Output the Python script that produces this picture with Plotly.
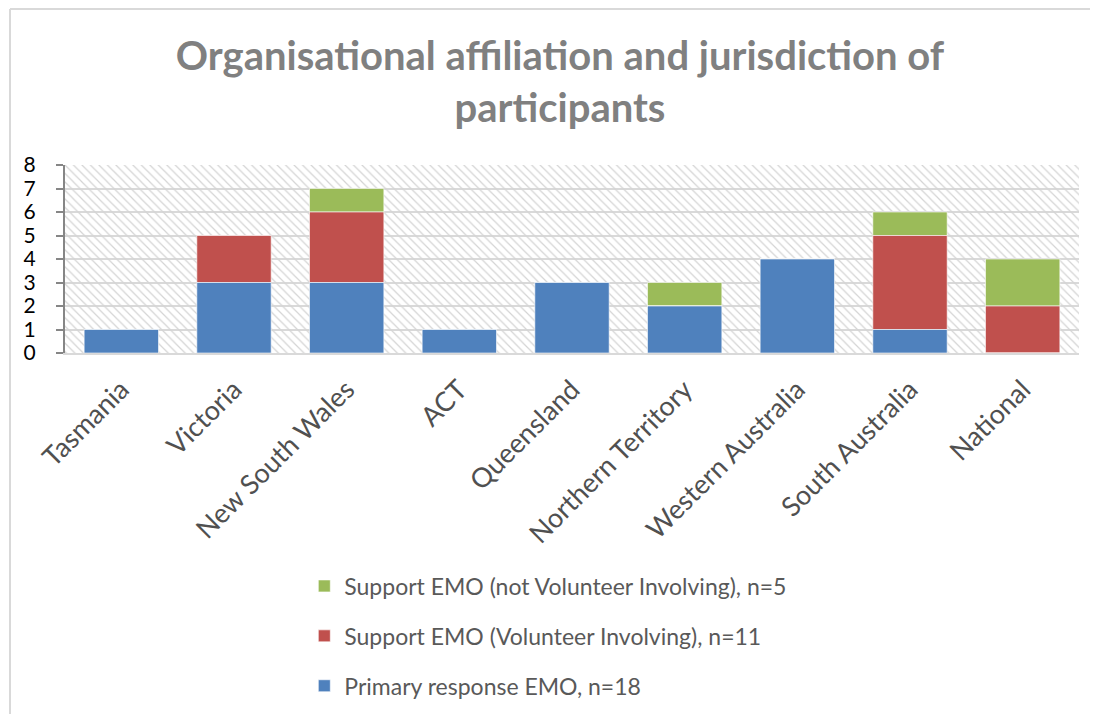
import plotly.graph_objects as go

categories = ["Tasmania", "Victoria", "New South Wales", "ACT", "Queensland",
              "Northern Territory", "Western Australia", "South Australia", "National"]
primary = [1, 3, 3, 1, 3, 2, 4, 1, 0]
support_vi = [0, 2, 3, 0, 0, 0, 0, 4, 2]
support_nvi = [0, 0, 1, 0, 0, 1, 0, 1, 2]

series_names = ["Primary response EMO, n=18",
                "Support EMO (Volunteer Involving), n=11",
                "Support EMO (not Volunteer Involving), n=5"]
colors = ["#4F81BD", "#C0504D", "#9BBB59"]

y_ticks = [0, 1, 2, 3, 4, 5, 6, 7, 8]
x_idx = list(range(len(categories)))
n = len(categories)

FONT = "Lato"
W, H = 1082, 706
L, T = 57, 157
PLOT_R, PLOT_B = 1071, 345

fig = go.Figure()

# hatched plot-area background (drawn first, under the data bars)
fig.add_trace(go.Bar(
    x=[(n - 1) / 2], y=[y_ticks[-1]], width=[n], base=[y_ticks[0]],
    marker=dict(color="rgba(0,0,0,0)", line=dict(width=0),
                pattern=dict(shape="\\", size=6, solidity=0.2,
                             fgcolor="#d4d4d4", bgcolor="rgba(255,255,255,0)",
                             fillmode="replace")),
    hoverinfo="skip", showlegend=False,
))

# stacked bases computed from the data
series_vals = [primary, support_vi, support_nvi]
bases = []
acc = [0] * n
for vals in series_vals:
    bases.append(list(acc))
    acc = [a + v for a, v in zip(acc, vals)]

# add in legend order (top series first)
for i in reversed(range(len(series_vals))):
    fig.add_trace(go.Bar(
        x=x_idx, y=series_vals[i], base=bases[i], name=series_names[i],
        legendgroup=f"g{i}",
        marker=dict(color=colors[i], line=dict(color="rgba(255,255,255,0.6)", width=1)),
    ))

fig.update_layout(
    width=W, height=H,
    barmode="overlay", bargap=0.34,
    paper_bgcolor="white", plot_bgcolor="white",
    margin=dict(l=L, r=W - PLOT_R, t=T, b=H - PLOT_B, autoexpand=False),
    title=dict(
        text="Organisational affiliation and jurisdiction of<br>participants",
        x=(560 - 8 - L) / (PLOT_R - L), xref="paper", xanchor="center",
        y=1 - 62 / H, yanchor="top",
        font=dict(family=FONT, size=40, color="#808080", weight="bold"),
    ),
    legend=dict(
        orientation="v", traceorder="grouped",
        x=0.236, xanchor="left", y=-1.125, yanchor="top",
        font=dict(family=FONT, size=23, color="#595959"),
        tracegroupgap=17,
    ),
    showlegend=True,
)

fig.update_xaxes(
    tickmode="array", tickvals=x_idx, ticktext=categories,
    range=[-0.5, n - 0.5],
    tickangle=-45,
    tickfont=dict(family=FONT, size=27, color="#505050"),
    showgrid=False, zeroline=False,
    showline=True, linecolor="#d9d9d9", linewidth=2,
    ticks="", ticklabelstandoff=8,
)
fig.update_yaxes(
    range=[y_ticks[0], y_ticks[-1]], tickvals=y_ticks,
    tickfont=dict(family=FONT, size=21, color="black"),
    showgrid=True, gridcolor="#d9d9d9", gridwidth=2,
    zeroline=False,
    showline=True, linecolor="#868686", linewidth=2,
    ticks="outside", ticklen=7, tickcolor="#868686", tickwidth=1.5,
    ticklabelstandoff=16,
)

# chart-area border (top and left edges)
ph = PLOT_B - T
pw = PLOT_R - L
fig.add_shape(type="line", xref="paper", yref="paper",
              x0=(2 - L) / pw, x1=(W - L) / pw, y0=(PLOT_B - 1) / ph, y1=(PLOT_B - 1) / ph,
              line=dict(color="#d9d9d9", width=2))
fig.add_shape(type="line", xref="paper", yref="paper",
              x0=(2 - L) / pw, x1=(2 - L) / pw, y0=(PLOT_B - 1) / ph, y1=(PLOT_B - H) / ph,
              line=dict(color="#d9d9d9", width=2))

fig.write_html("out.html")
